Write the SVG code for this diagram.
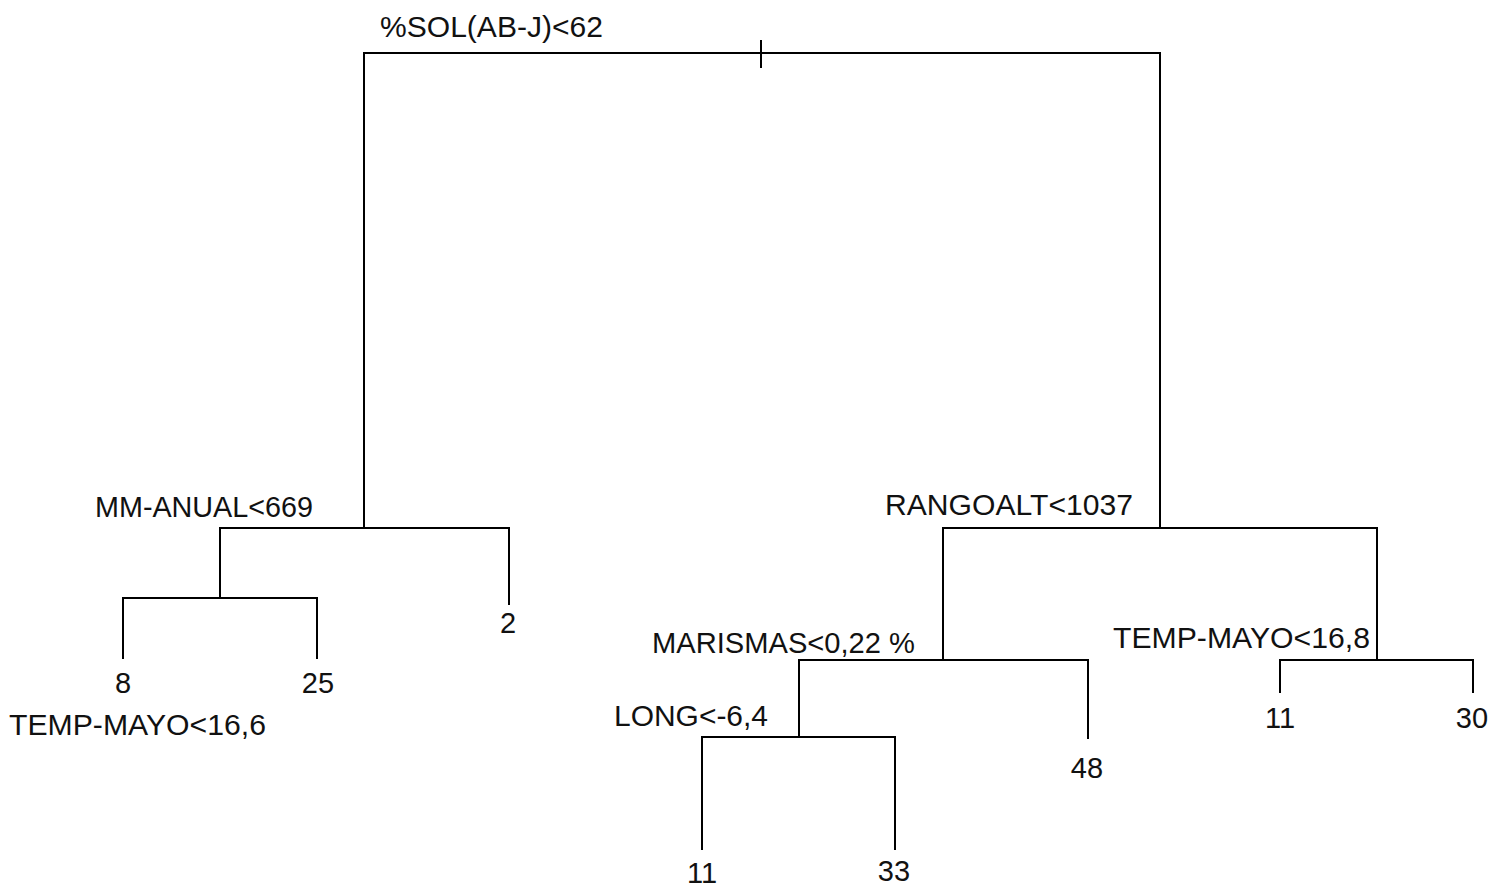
<svg xmlns="http://www.w3.org/2000/svg" width="1489" height="890" viewBox="0 0 1489 890">
<style>
.l{fill:none;stroke:#000;stroke-width:2;stroke-linecap:square}
text{font-family:"Liberation Sans",Arial,sans-serif;font-size:29px;fill:#111}
.m{text-anchor:middle}
</style>
<rect width="1489" height="890" fill="#fff"/>
<g id="connectors">
<path class="l" d="M364,528 V53 H1160 V528"/>
<path class="l" d="M761,41 V67"/>
<path class="l" d="M220,598 V528 H509 V604"/>
<path class="l" d="M123,658 V598 H317 V658"/>
<path class="l" d="M943,660 V528 H1377 V660"/>
<path class="l" d="M799,737 V660 H1088 V738"/>
<path class="l" d="M702,849 V737 H895 V849"/>
<path class="l" d="M1280,692 V660 H1473 V692"/>
</g>
<g id="n-root"><text x="380" y="37" textLength="223" lengthAdjust="spacingAndGlyphs">%SOL(AB-J)&lt;62</text></g>
<g id="n-mm"><text x="95" y="517" textLength="218" lengthAdjust="spacingAndGlyphs">MM-ANUAL&lt;669</text></g>
<g id="n-temp66"><text x="9" y="735" textLength="257" lengthAdjust="spacingAndGlyphs">TEMP-MAYO&lt;16,6</text></g>
<g id="n-leaf8"><text class="m" x="123" y="693">8</text></g>
<g id="n-leaf25"><text class="m" x="318" y="693">25</text></g>
<g id="n-leaf2"><text class="m" x="508" y="633">2</text></g>
<g id="n-rango"><text x="885" y="515" textLength="248" lengthAdjust="spacingAndGlyphs">RANGOALT&lt;1037</text></g>
<g id="n-maris"><text x="652" y="653" textLength="263" lengthAdjust="spacingAndGlyphs">MARISMAS&lt;0,22 %</text></g>
<g id="n-long"><text x="614" y="726" textLength="154" lengthAdjust="spacingAndGlyphs">LONG&lt;-6,4</text></g>
<g id="n-leaf11a"><text class="m" x="702" y="883">11</text></g>
<g id="n-leaf33"><text class="m" x="894" y="881">33</text></g>
<g id="n-leaf48"><text class="m" x="1087" y="778">48</text></g>
<g id="n-temp68"><text x="1113" y="648" textLength="257" lengthAdjust="spacingAndGlyphs">TEMP-MAYO&lt;16,8</text></g>
<g id="n-leaf11b"><text class="m" x="1280" y="728">11</text></g>
<g id="n-leaf30"><text class="m" x="1472" y="728">30</text></g>
</svg>
